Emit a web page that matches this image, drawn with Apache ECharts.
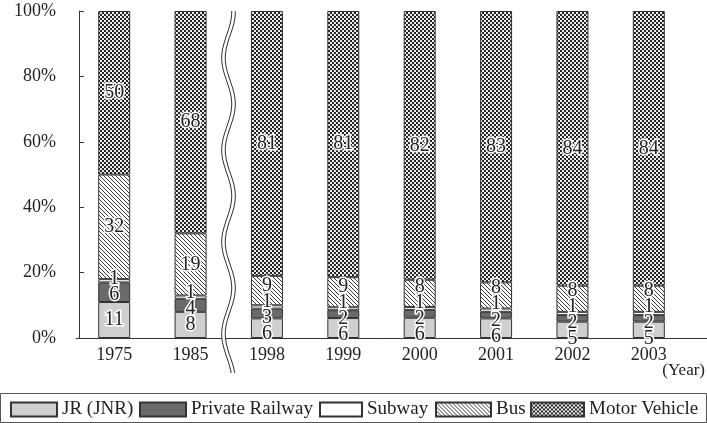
<!DOCTYPE html>
<html><head><meta charset="utf-8">
<script src="https://cdn.jsdelivr.net/npm/echarts@6/dist/echarts.min.js"></script>
<style>html,body{margin:0;padding:0;background:#fff}#c{width:707px;height:423px}</style>
</head><body><div id="c"></div>
<script>
// ---- data ----
const years = ['1975', '1985', '1998', '1999', '2000', '2001', '2002', '2003'];
const seriesNames = ['JR (JNR)', 'Private Railway', 'Subway', 'Bus', 'Motor Vehicle'];
const jr          = [11, 8, 6, 6.1, 6.2, 6, 5, 5];
const privateRail = [6, 4, 3, 2.4, 2.4, 2, 2, 2];
const subway      = [1, 1, 1, 0.9, 0.9, 1, 1, 1];
const bus         = [32, 19, 9, 9.2, 8.3, 8, 8, 8];
const motor       = [50, 68, 81, 81.4, 82.2, 83, 84, 84];
const yMin = 0, yMax = 100, yStep = 20;
const yearUnit = '(Year)';

const SERIF = "'Liberation Serif','DejaVu Serif','Times New Roman',serif";
const INK = '#222';

// ---- fill patterns ----
function hatchPattern() {
  const s = 4, c = document.createElement('canvas'); c.width = c.height = s;
  const g = c.getContext('2d');
  g.fillStyle = '#fff'; g.fillRect(0, 0, s, s);
  g.strokeStyle = '#222'; g.lineWidth = 0.9;
  g.beginPath();
  g.moveTo(-1, -1); g.lineTo(s + 1, s + 1);
  g.moveTo(-1, s - 1); g.lineTo(1, s + 1);
  g.moveTo(s - 1, -1); g.lineTo(s + 1, 1);
  g.stroke();
  return { image: c, repeat: 'repeat' };
}
function checkPattern() {
  const c = document.createElement('canvas'); c.width = c.height = 4;
  const g = c.getContext('2d');
  g.fillStyle = '#262626'; g.fillRect(0, 0, 4, 4);
  g.fillStyle = '#ececec';
  g.fillRect(0, 0, 2, 2); g.fillRect(2, 2, 2, 2);
  return { image: c, repeat: 'repeat' };
}
const fills = ['#cfcfcf', '#6a6a6a', '#ffffff', hatchPattern(), checkPattern()];
const allSeries = [jr, privateRail, subway, bus, motor];

// ---- label de-overlap (per bar) ----
const H = 4.9;            // label spacing in %
const PX = 327 / 100;     // px per %
const offsets = allSeries.map(() => []);
years.forEach((y, i) => {
  const vals = allSeries.map(s => s[i]);
  let cum = 0;
  const ideal = vals.map(v => { const c = cum + v / 2; cum += v; return c; });
  let clusters = ideal.map((c, k) => ({ idx: [k], mean: c }));
  let changed = true;
  while (changed) {
    changed = false;
    for (let j = 0; j < clusters.length - 1; j++) {
      const a = clusters[j], b = clusters[j + 1];
      const aTop = a.mean + (a.idx.length - 1) * H / 2;
      const bBot = b.mean - (b.idx.length - 1) * H / 2;
      if (bBot - aTop < H) {
        const idx = a.idx.concat(b.idx);
        const mean = idx.reduce((s, k) => s + ideal[k], 0) / idx.length;
        clusters.splice(j, 2, { idx, mean });
        changed = true; break;
      }
    }
  }
  clusters.forEach(cl => {
    const n = cl.idx.length;
    cl.idx.forEach((k, m) => {
      const p = cl.mean + (m - (n - 1) / 2) * H;
      offsets[k][i] = -(p - ideal[k]) * PX;
    });
  });
});

const series = allSeries.map((arr, k) => ({
  name: seriesNames[k],
  type: 'bar',
  stack: 'total',
  barWidth: 32,
  itemStyle: { color: fills[k], borderColor: '#333', borderWidth: 1 },
  label: {
    show: true, position: 'inside',
    formatter: p => Math.round(p.value),
    fontFamily: SERIF, fontSize: 20, color: INK,
    textBorderColor: '#fff', textBorderWidth: 3
  },
  emphasis: { disabled: true },
  data: arr.map((v, i) => ({ value: v, label: { offset: [0, offsets[k][i]] } }))
}));

// ---- legends (one per item to match spacing) ----
const legendLeft  = [10, 139, 319, 435, 530];
const legendWidth = [46, 46, 42, 55, 53];
const legends = seriesNames.map((n, k) => ({
  data: [n], left: legendLeft[k], top: 400,
  itemWidth: legendWidth[k], itemHeight: 14, icon: 'rect',
  textStyle: { fontFamily: SERIF, fontSize: 19, color: INK },
  selectedMode: false, padding: 0
}));

// ---- wavy axis break ----
function wave(dx) {
  const pts = [];
  for (let y = 11; y <= 373; y += 2) {
    pts.push([228.5 + dx + 5 * Math.cos(2 * Math.PI * (y - 12) / 92), y]);
  }
  return pts;
}
const left = wave(-1.8), right = wave(1.8);

const chart = echarts.init(document.getElementById('c'), null, { renderer: 'canvas' });
chart.setOption({
  animation: false,
  backgroundColor: '#fff',
  grid: { left: 76, right: 20, top: 11, bottom: 85 },
  xAxis: {
    type: 'category', data: years,
    axisLine: { lineStyle: { color: '#333', width: 1 } },
    axisTick: { inside: true, length: 5, lineStyle: { color: '#333' } },
    axisLabel: { fontFamily: SERIF, fontSize: 18, color: INK, margin: 8 }
  },
  yAxis: {
    type: 'value', min: yMin, max: yMax, interval: yStep, offset: -3,
    axisLine: { show: true, lineStyle: { color: '#333', width: 1 } },
    axisTick: { show: true, inside: true, length: 5, lineStyle: { color: '#333' } },
    splitLine: { show: false },
    axisLabel: { formatter: '{value}%', fontFamily: SERIF, fontSize: 18, color: INK, margin: 23, padding: [8, 0, 0, 0] }
  },
  legend: legends,
  series,
  graphic: [
    { type: 'polygon', z: 100, shape: { points: left.concat(right.slice().reverse()) }, style: { fill: '#fff', stroke: null } },
    { type: 'polyline', z: 101, shape: { points: left }, style: { stroke: '#333', lineWidth: 1, fill: null } },
    { type: 'polyline', z: 101, shape: { points: right }, style: { stroke: '#333', lineWidth: 1, fill: null } },
    { type: 'line', z: 50, shape: { x1: 687, y1: 338.5, x2: 707, y2: 338.5 }, style: { stroke: '#333', lineWidth: 1 } },
    { type: 'text', z: 50, style: { text: yearUnit, x: 705, y: 371, textAlign: 'right', textVerticalAlign: 'middle', font: "17px " + SERIF, fill: INK } },
    { type: 'rect', z: 40, shape: { x: 0.5, y: 393.5, width: 706, height: 29 }, style: { fill: null, stroke: '#555', lineWidth: 1 } }
  ]
});
</script>
</body></html>
